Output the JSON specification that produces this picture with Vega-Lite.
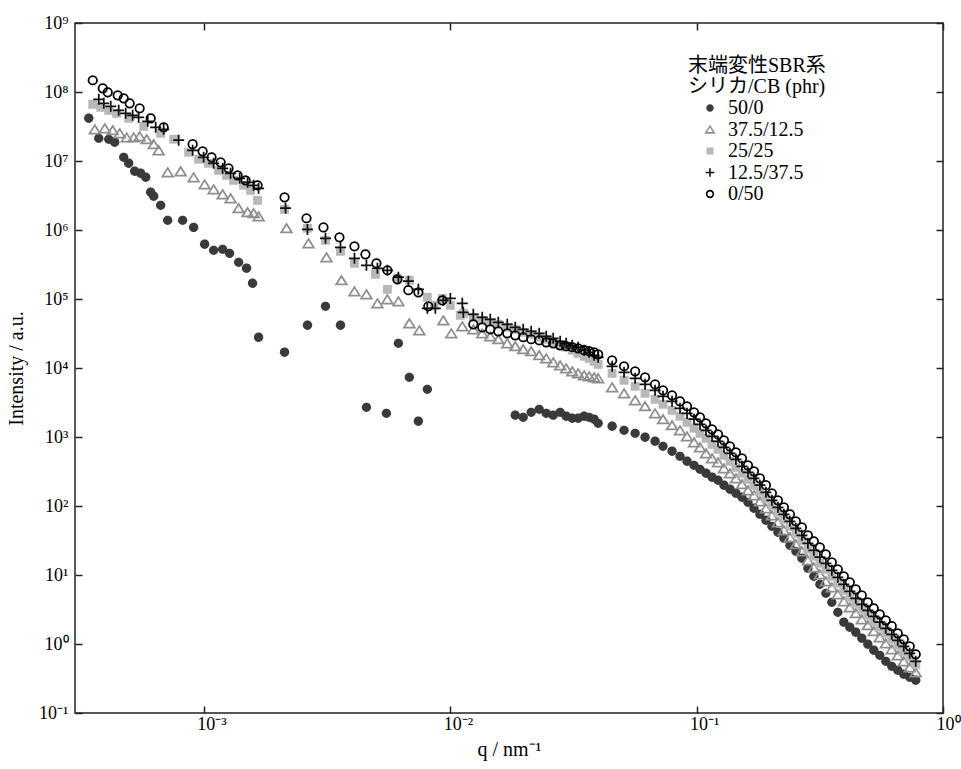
{
  "$schema": "https://vega.github.io/schema/vega-lite/v6.json",
  "width": 868,
  "height": 690,
  "autosize": {"type": "none"},
  "padding": {"left": 75, "top": 23, "right": 18, "bottom": 56},
  "background": "white",
  "config": {
    "view": {"stroke": "#222", "strokeWidth": 1.5},
    "font": "Liberation Serif",
    "axis": {
      "domain": false, "grid": false, "ticks": true,
      "tickColor": "#222", "tickWidth": 1.5, "tickSize": -7,
      "labelFont": "Liberation Serif", "labelFontSize": 18, "labelColor": "#000",
      "labelFlush": false, "labelOverlap": false,
      "titleFont": "Liberation Serif", "titleFontSize": 20, "titleFontWeight": "normal", "titleColor": "#000"
    },
    "legend": {
      "titleFont": "Liberation Serif, Noto Sans CJK JP", "titleFontSize": 20, "titleFontWeight": "normal",
      "titleLineHeight": 21, "titlePadding": 1, "titleColor": "#000", "titleAnchor": "start",
      "labelFont": "Liberation Serif", "labelFontSize": 20, "labelColor": "#000", "labelOffset": 8,
      "symbolOffset": 12, "symbolSize": 45, "symbolStrokeWidth": 1.6, "rowPadding": 1.5, "padding": 0
    }
  },
  "data": {"values": [
    {"series":"50/0","q":3.412e-4,"I":4.16e7},{"series":"50/0","q":3.746e-4,"I":2.13e7},{"series":"50/0","q":4.112e-4,"I":2.06e7},{"series":"50/0","q":4.348e-4,"I":1.87e7},{"series":"50/0","q":4.729e-4,"I":1.13e7},{"series":"50/0","q":4.955e-4,"I":9.27e6},{"series":"50/0","q":5.240e-4,"I":7.10e6},{"series":"50/0","q":5.540e-4,"I":6.64e6},{"series":"50/0","q":5.809e-4,"I":5.81e6},{"series":"50/0","q":6.085e-4,"I":3.52e6},{"series":"50/0","q":6.258e-4,"I":3.08e6},{"series":"50/0","q":6.680e-4,"I":2.28e6},{"series":"50/0","q":7.134e-4,"I":1.38e6},{"series":"50/0","q":8.204e-4,"I":1.38e6},{"series":"50/0","q":9.091e-4,"I":1.09e6},{"series":"50/0","q":1.0074e-3,"I":6.21e5},{"series":"50/0","q":1.096e-3,"I":5.08e5},{"series":"50/0","q":1.192e-3,"I":5.25e5},{"series":"50/0","q":1.272e-3,"I":4.59e5},{"series":"50/0","q":1.384e-3,"I":3.40e5},{"series":"50/0","q":1.491e-3,"I":2.79e5},{"series":"50/0","q":1.577e-3,"I":1.69e5},{"series":"50/0","q":1.668e-3,"I":2.79e4},{"series":"50/0","q":2.126e-3,"I":1.69e4},{"series":"50/0","q":2.634e-3,"I":4.16e4},{"series":"50/0","q":3.117e-3,"I":7.83e4},{"series":"50/0","q":3.586e-3,"I":4.16e4},{"series":"50/0","q":4.570e-3,"I":2.69e3},{"series":"50/0","q":5.508e-3,"I":2.20e3},{"series":"50/0","q":6.160e-3,"I":2.28e4},{"series":"50/0","q":6.824e-3,"I":7.33e3},{"series":"50/0","q":7.424e-3,"I":1.69e3},{"series":"50/0","q":8.074e-3,"I":4.91e3},
    {"series":"50/0","q":0.01836,"I":2070},{"series":"50/0","q":0.01978,"I":1930},{"series":"50/0","q":0.02131,"I":2280},{"series":"50/0","q":0.02297,"I":2520},{"series":"50/0","q":0.02453,"I":2200},{"series":"50/0","q":0.02618,"I":2070},{"series":"50/0","q":0.02794,"I":2280},{"series":"50/0","q":0.02955,"I":2000},{"series":"50/0","q":0.03126,"I":1870},{"series":"50/0","q":0.03305,"I":1870},{"series":"50/0","q":0.03496,"I":2000},{"series":"50/0","q":0.03663,"I":1930},{"series":"50/0","q":0.03838,"I":1810},{"series":"50/0","q":0.03985,"I":1580},
    {"series":"50/0","q":0.04541,"I":1430},{"series":"50/0","q":0.05076,"I":1250},{"series":"50/0","q":0.05630,"I":1130},{"series":"50/0","q":0.06177,"I":991},{"series":"50/0","q":0.06783,"I":867},{"series":"50/0","q":0.07306,"I":733},{"series":"50/0","q":0.07949,"I":621},{"series":"50/0","q":0.08561,"I":525},{"series":"50/0","q":0.09143,"I":445},{"series":"50/0","q":0.09760,"I":389},{"series":"50/0","q":0.1032,"I":340},{"series":"50/0","q":0.1092,"I":298},{"series":"50/0","q":0.1155,"I":261},{"series":"50/0","q":0.1221,"I":236},{"series":"50/0","q":0.1291,"I":200},{"series":"50/0","q":0.1366,"I":175},{"series":"50/0","q":0.1444,"I":153},{"series":"50/0","q":0.1528,"I":134},{"series":"50/0","q":0.1616,"I":113},{"series":"50/0","q":0.1709,"I":92.7},{"series":"50/0","q":0.1807,"I":75.9},{"series":"50/0","q":0.1911,"I":62.1},{"series":"50/0","q":0.2021,"I":50.8},{"series":"50/0","q":0.2138,"I":41.6},{"series":"50/0","q":0.2261,"I":34.0},{"series":"50/0","q":0.2391,"I":26.9},{"series":"50/0","q":0.2529,"I":22.0},{"series":"50/0","q":0.2675,"I":17.5},{"series":"50/0","q":0.2829,"I":12.5},{"series":"50/0","q":0.2991,"I":9.57},{"series":"50/0","q":0.3164,"I":7.33},{"series":"50/0","q":0.3346,"I":5.43},{"series":"50/0","q":0.3538,"I":4.02},{"series":"50/0","q":0.3742,"I":2.88},{"series":"50/0","q":0.3958,"I":2.07},{"series":"50/0","q":0.4186,"I":1.75},{"series":"50/0","q":0.4427,"I":1.48},{"series":"50/0","q":0.4682,"I":1.21},{"series":"50/0","q":0.4952,"I":0.991},{"series":"50/0","q":0.5237,"I":0.811},{"series":"50/0","q":0.5539,"I":0.686},{"series":"50/0","q":0.5858,"I":0.561},{"series":"50/0","q":0.6195,"I":0.475},{"series":"50/0","q":0.6552,"I":0.416},{"series":"50/0","q":0.6929,"I":0.364},{"series":"50/0","q":0.7328,"I":0.329},{"series":"50/0","q":0.7750,"I":0.298},

    {"series":"37.5/12.5","q":3.609e-4,"I":2.88e7},{"series":"37.5/12.5","q":3.962e-4,"I":2.98e7},{"series":"37.5/12.5","q":4.268e-4,"I":2.79e7},{"series":"37.5/12.5","q":4.556e-4,"I":2.52e7},{"series":"37.5/12.5","q":4.864e-4,"I":2.20e7},{"series":"37.5/12.5","q":5.191e-4,"I":2.20e7},{"series":"37.5/12.5","q":5.489e-4,"I":2.28e7},{"series":"37.5/12.5","q":5.863e-4,"I":2.07e7},{"series":"37.5/12.5","q":6.258e-4,"I":1.75e7},{"series":"37.5/12.5","q":6.557e-4,"I":1.43e7},{"series":"37.5/12.5","q":7.134e-4,"I":6.86e6},{"series":"37.5/12.5","q":8.054e-4,"I":7.10e6},{"series":"37.5/12.5","q":9.091e-4,"I":5.81e6},{"series":"37.5/12.5","q":1.0074e-3,"I":4.59e6},{"series":"37.5/12.5","q":1.096e-3,"I":3.89e6},{"series":"37.5/12.5","q":1.192e-3,"I":3.29e6},{"series":"37.5/12.5","q":1.284e-3,"I":2.88e6},{"series":"37.5/12.5","q":1.384e-3,"I":2.07e6},{"series":"37.5/12.5","q":1.505e-3,"I":1.81e6},{"series":"37.5/12.5","q":1.592e-3,"I":1.75e6},{"series":"37.5/12.5","q":1.668e-3,"I":1.58e6},
    {"series":"37.5/12.5","q":2.166e-3,"I":1.06e6},{"series":"37.5/12.5","q":2.659e-3,"I":6.41e5},{"series":"37.5/12.5","q":3.146e-3,"I":4.02e5},{"series":"37.5/12.5","q":3.619e-3,"I":1.87e5},{"series":"37.5/12.5","q":4.086e-3,"I":1.29e5},{"series":"37.5/12.5","q":4.570e-3,"I":1.17e5},{"series":"37.5/12.5","q":5.064e-3,"I":8.67e4},{"series":"37.5/12.5","q":5.559e-3,"I":9.91e4},{"series":"37.5/12.5","q":6.160e-3,"I":9.27e4},{"series":"37.5/12.5","q":6.824e-3,"I":4.45e4},{"series":"37.5/12.5","q":7.494e-3,"I":3.52e4},{"series":"37.5/12.5","q":9.376e-3,"I":4.91e4},{"series":"37.5/12.5","q":1.0104e-2,"I":3.18e4},{"series":"37.5/12.5","q":1.1194e-2,"I":4.02e4},
    {"series":"37.5/12.5","q":0.01241,"I":36400},{"series":"37.5/12.5","q":0.01349,"I":31800},{"series":"37.5/12.5","q":0.01454,"I":28800},{"series":"37.5/12.5","q":0.01567,"I":26100},{"series":"37.5/12.5","q":0.01704,"I":22800},{"series":"37.5/12.5","q":0.01836,"I":20700},{"series":"37.5/12.5","q":0.01978,"I":18700},{"series":"37.5/12.5","q":0.02131,"I":17500},{"series":"37.5/12.5","q":0.02297,"I":15300},{"series":"37.5/12.5","q":0.02453,"I":13800},{"series":"37.5/12.5","q":0.02618,"I":12100},{"series":"37.5/12.5","q":0.02794,"I":10900},{"series":"37.5/12.5","q":0.02955,"I":9910},{"series":"37.5/12.5","q":0.03126,"I":8960},{"series":"37.5/12.5","q":0.03305,"I":8380},{"series":"37.5/12.5","q":0.03496,"I":7830},{"series":"37.5/12.5","q":0.03663,"I":7590},{"series":"37.5/12.5","q":0.03838,"I":7330},{"series":"37.5/12.5","q":0.03985,"I":7100},
    {"series":"37.5/12.5","q":0.04541,"I":5250},{"series":"37.5/12.5","q":0.05076,"I":4300},{"series":"37.5/12.5","q":0.05630,"I":3400},{"series":"37.5/12.5","q":0.06177,"I":2790},{"series":"37.5/12.5","q":0.06783,"I":2200},{"series":"37.5/12.5","q":0.07306,"I":1810},{"series":"37.5/12.5","q":0.07949,"I":1480},{"series":"37.5/12.5","q":0.08561,"I":1250},{"series":"37.5/12.5","q":0.09143,"I":1020},{"series":"37.5/12.5","q":0.09760,"I":838},{"series":"37.5/12.5","q":0.1032,"I":710},{"series":"37.5/12.5","q":0.1092,"I":581},{"series":"37.5/12.5","q":0.1155,"I":491},{"series":"37.5/12.5","q":0.1221,"I":430},{"series":"37.5/12.5","q":0.1291,"I":352},{"series":"37.5/12.5","q":0.1366,"I":298},{"series":"37.5/12.5","q":0.1444,"I":252},{"series":"37.5/12.5","q":0.1528,"I":207},{"series":"37.5/12.5","q":0.1616,"I":169},{"series":"37.5/12.5","q":0.1709,"I":143},{"series":"37.5/12.5","q":0.1807,"I":117},{"series":"37.5/12.5","q":0.1911,"I":92.7},{"series":"37.5/12.5","q":0.2021,"I":73.3},{"series":"37.5/12.5","q":0.2138,"I":58.1},{"series":"37.5/12.5","q":0.2261,"I":44.5},{"series":"37.5/12.5","q":0.2391,"I":35.2},{"series":"37.5/12.5","q":0.2529,"I":27.9},{"series":"37.5/12.5","q":0.2675,"I":22.0},{"series":"37.5/12.5","q":0.2829,"I":16.3},{"series":"37.5/12.5","q":0.2991,"I":12.9},{"series":"37.5/12.5","q":0.3164,"I":10.2},{"series":"37.5/12.5","q":0.3346,"I":8.11},{"series":"37.5/12.5","q":0.3538,"I":6.64},{"series":"37.5/12.5","q":0.3742,"I":5.25},{"series":"37.5/12.5","q":0.3958,"I":4.16},{"series":"37.5/12.5","q":0.4186,"I":3.40},{"series":"37.5/12.5","q":0.4427,"I":2.79},{"series":"37.5/12.5","q":0.4682,"I":2.28},{"series":"37.5/12.5","q":0.4952,"I":1.87},{"series":"37.5/12.5","q":0.5237,"I":1.53},{"series":"37.5/12.5","q":0.5539,"I":1.25},{"series":"37.5/12.5","q":0.5858,"I":1.02},{"series":"37.5/12.5","q":0.6195,"I":0.838},{"series":"37.5/12.5","q":0.6552,"I":0.686},{"series":"37.5/12.5","q":0.6929,"I":0.561},{"series":"37.5/12.5","q":0.7328,"I":0.459},{"series":"37.5/12.5","q":0.7750,"I":0.389},

    {"series":"25/25","q":3.541e-4,"I":6.64e7},{"series":"25/25","q":3.817e-4,"I":6.00e7},{"series":"25/25","q":4.112e-4,"I":5.43e7},{"series":"25/25","q":4.430e-4,"I":4.91e7},{"series":"25/25","q":4.955e-4,"I":4.16e7},{"series":"25/25","q":5.702e-4,"I":3.18e7},{"series":"25/25","q":6.680e-4,"I":2.52e7},{"series":"25/25","q":7.544e-4,"I":2.07e7},{"series":"25/25","q":8.678e-4,"I":1.34e7},{"series":"25/25","q":9.526e-4,"I":1.06e7},{"series":"25/25","q":1.045e-3,"I":9.27e6},{"series":"25/25","q":1.148e-3,"I":7.33e6},{"series":"25/25","q":1.237e-3,"I":6.21e6},{"series":"25/25","q":1.320e-3,"I":5.25e6},{"series":"25/25","q":1.450e-3,"I":4.45e6},{"series":"25/25","q":1.548e-3,"I":3.76e6},{"series":"25/25","q":1.652e-3,"I":2.69e6},
    {"series":"25/25","q":2.126e-3,"I":2.00e6},{"series":"25/25","q":2.634e-3,"I":1.06e6},{"series":"25/25","q":3.117e-3,"I":7.10e5},{"series":"25/25","q":3.586e-3,"I":4.91e5},{"series":"25/25","q":4.086e-3,"I":3.29e5},{"series":"25/25","q":4.971e-3,"I":2.28e5},{"series":"25/25","q":5.559e-3,"I":1.38e5},{"series":"25/25","q":6.103e-3,"I":2.00e5},{"series":"25/25","q":6.824e-3,"I":1.87e5},{"series":"25/25","q":8.074e-3,"I":1.06e5},{"series":"25/25","q":8.619e-3,"I":8.11e4},{"series":"25/25","q":9.290e-3,"I":1.02e5},{"series":"25/25","q":1.0009e-2,"I":8.11e4},{"series":"25/25","q":1.0988e-2,"I":5.81e4},
    {"series":"25/25","q":0.01130,"I":62100},{"series":"25/25","q":0.01241,"I":54300},{"series":"25/25","q":0.01349,"I":49100},{"series":"25/25","q":0.01454,"I":45900},{"series":"25/25","q":0.01567,"I":43000},{"series":"25/25","q":0.01704,"I":38900},{"series":"25/25","q":0.01836,"I":36400},{"series":"25/25","q":0.01978,"I":32900},{"series":"25/25","q":0.02131,"I":30800},{"series":"25/25","q":0.02297,"I":27900},{"series":"25/25","q":0.02453,"I":26100},{"series":"25/25","q":0.02618,"I":23600},{"series":"25/25","q":0.02794,"I":21300},{"series":"25/25","q":0.02955,"I":20000},{"series":"25/25","q":0.03126,"I":18100},{"series":"25/25","q":0.03305,"I":16300},{"series":"25/25","q":0.03496,"I":14800},{"series":"25/25","q":0.03663,"I":13800},{"series":"25/25","q":0.03838,"I":12500},{"series":"25/25","q":0.03985,"I":11300},
    {"series":"25/25","q":0.04541,"I":8380},{"series":"25/25","q":0.05076,"I":6640},{"series":"25/25","q":0.05630,"I":5430},{"series":"25/25","q":0.06177,"I":4300},{"series":"25/25","q":0.06783,"I":3520},{"series":"25/25","q":0.07306,"I":2980},{"series":"25/25","q":0.07949,"I":2440},{"series":"25/25","q":0.08561,"I":2000},{"series":"25/25","q":0.09143,"I":1630},{"series":"25/25","q":0.09760,"I":1340},{"series":"25/25","q":0.1032,"I":1130},{"series":"25/25","q":0.1092,"I":957},{"series":"25/25","q":0.1155,"I":783},{"series":"25/25","q":0.1221,"I":664},{"series":"25/25","q":0.1291,"I":543},{"series":"25/25","q":0.1366,"I":445},{"series":"25/25","q":0.1444,"I":364},{"series":"25/25","q":0.1528,"I":298},{"series":"25/25","q":0.1616,"I":244},{"series":"25/25","q":0.1709,"I":200},{"series":"25/25","q":0.1807,"I":163},{"series":"25/25","q":0.1911,"I":129},{"series":"25/25","q":0.2021,"I":102},{"series":"25/25","q":0.2138,"I":81.1},{"series":"25/25","q":0.2261,"I":64.1},{"series":"25/25","q":0.2391,"I":50.8},{"series":"25/25","q":0.2529,"I":40.2},{"series":"25/25","q":0.2675,"I":31.8},{"series":"25/25","q":0.2829,"I":23.6},{"series":"25/25","q":0.2991,"I":18.7},{"series":"25/25","q":0.3164,"I":14.8},{"series":"25/25","q":0.3346,"I":12.1},{"series":"25/25","q":0.3538,"I":9.57},{"series":"25/25","q":0.3742,"I":7.59},{"series":"25/25","q":0.3958,"I":6.00},{"series":"25/25","q":0.4186,"I":4.75},{"series":"25/25","q":0.4427,"I":3.89},{"series":"25/25","q":0.4682,"I":3.18},{"series":"25/25","q":0.4952,"I":2.61},{"series":"25/25","q":0.5237,"I":2.13},{"series":"25/25","q":0.5539,"I":1.75},{"series":"25/25","q":0.5858,"I":1.43},{"series":"25/25","q":0.6195,"I":1.17},{"series":"25/25","q":0.6552,"I":0.957},{"series":"25/25","q":0.6929,"I":0.783},{"series":"25/25","q":0.7328,"I":0.641},{"series":"25/25","q":0.7750,"I":0.508},

    {"series":"12.5/37.5","q":3.746e-4,"I":7.83e7},{"series":"12.5/37.5","q":3.925e-4,"I":6.85e7},{"series":"12.5/37.5","q":4.190e-4,"I":6.21e7},{"series":"12.5/37.5","q":4.513e-4,"I":5.43e7},{"series":"12.5/37.5","q":4.819e-4,"I":4.91e7},{"series":"12.5/37.5","q":5.143e-4,"I":4.59e7},{"series":"12.5/37.5","q":5.438e-4,"I":4.30e7},{"series":"12.5/37.5","q":5.918e-4,"I":3.76e7},{"series":"12.5/37.5","q":6.376e-4,"I":3.08e7},{"series":"12.5/37.5","q":6.871e-4,"I":2.88e7},{"series":"12.5/37.5","q":7.904e-4,"I":2.00e7},{"series":"12.5/37.5","q":9.008e-4,"I":1.43e7},{"series":"12.5/37.5","q":9.98e-4,"I":1.13e7},{"series":"12.5/37.5","q":1.096e-3,"I":9.27e6},{"series":"12.5/37.5","q":1.192e-3,"I":7.83e6},{"series":"12.5/37.5","q":1.284e-3,"I":6.64e6},{"series":"12.5/37.5","q":1.397e-3,"I":5.61e6},{"series":"12.5/37.5","q":1.505e-3,"I":4.91e6},{"series":"12.5/37.5","q":1.592e-3,"I":4.45e6},{"series":"12.5/37.5","q":1.668e-3,"I":4.02e6},
    {"series":"12.5/37.5","q":2.146e-3,"I":2.07e6},{"series":"12.5/37.5","q":2.634e-3,"I":1.02e6},{"series":"12.5/37.5","q":3.117e-3,"I":7.59e5},{"series":"12.5/37.5","q":3.586e-3,"I":5.61e5},{"series":"12.5/37.5","q":4.086e-3,"I":3.89e5},{"series":"12.5/37.5","q":4.570e-3,"I":3.08e5},{"series":"12.5/37.5","q":5.064e-3,"I":2.79e5},{"series":"12.5/37.5","q":5.559e-3,"I":2.61e5},{"series":"12.5/37.5","q":6.160e-3,"I":2.07e5},{"series":"12.5/37.5","q":6.762e-3,"I":1.81e5},{"series":"12.5/37.5","q":7.424e-3,"I":1.38e5},{"series":"12.5/37.5","q":8.074e-3,"I":7.33e4},{"series":"12.5/37.5","q":8.700e-3,"I":7.33e4},{"series":"12.5/37.5","q":9.376e-3,"I":9.57e4},{"series":"12.5/37.5","q":1.0009e-2,"I":1.02e5},{"series":"12.5/37.5","q":1.1194e-2,"I":8.67e4},
    {"series":"12.5/37.5","q":0.01130,"I":64100},{"series":"12.5/37.5","q":0.01241,"I":60000},{"series":"12.5/37.5","q":0.01349,"I":54300},{"series":"12.5/37.5","q":0.01454,"I":50800},{"series":"12.5/37.5","q":0.01567,"I":45900},{"series":"12.5/37.5","q":0.01704,"I":43000},{"series":"12.5/37.5","q":0.01836,"I":38900},{"series":"12.5/37.5","q":0.01978,"I":36400},{"series":"12.5/37.5","q":0.02131,"I":34000},{"series":"12.5/37.5","q":0.02297,"I":31800},{"series":"12.5/37.5","q":0.02453,"I":28800},{"series":"12.5/37.5","q":0.02618,"I":26900},{"series":"12.5/37.5","q":0.02794,"I":24400},{"series":"12.5/37.5","q":0.02955,"I":22800},{"series":"12.5/37.5","q":0.03126,"I":21300},{"series":"12.5/37.5","q":0.03305,"I":20000},{"series":"12.5/37.5","q":0.03496,"I":18100},{"series":"12.5/37.5","q":0.03663,"I":16900},{"series":"12.5/37.5","q":0.03838,"I":15300},{"series":"12.5/37.5","q":0.03985,"I":14300},
    {"series":"12.5/37.5","q":0.04541,"I":10600},{"series":"12.5/37.5","q":0.05076,"I":8670},{"series":"12.5/37.5","q":0.05630,"I":7100},{"series":"12.5/37.5","q":0.06177,"I":5800},{"series":"12.5/37.5","q":0.06783,"I":4750},{"series":"12.5/37.5","q":0.07306,"I":3890},{"series":"12.5/37.5","q":0.07949,"I":3290},{"series":"12.5/37.5","q":0.08561,"I":2610},{"series":"12.5/37.5","q":0.09143,"I":2200},{"series":"12.5/37.5","q":0.09760,"I":1810},{"series":"12.5/37.5","q":0.1032,"I":1530},{"series":"12.5/37.5","q":0.1092,"I":1250},{"series":"12.5/37.5","q":0.1155,"I":1020},{"series":"12.5/37.5","q":0.1221,"I":867},{"series":"12.5/37.5","q":0.1291,"I":710},{"series":"12.5/37.5","q":0.1366,"I":581},{"series":"12.5/37.5","q":0.1444,"I":475},{"series":"12.5/37.5","q":0.1528,"I":376},{"series":"12.5/37.5","q":0.1616,"I":308},{"series":"12.5/37.5","q":0.1709,"I":252},{"series":"12.5/37.5","q":0.1807,"I":200},{"series":"12.5/37.5","q":0.1911,"I":158},{"series":"12.5/37.5","q":0.2021,"I":121},{"series":"12.5/37.5","q":0.2138,"I":95.7},{"series":"12.5/37.5","q":0.2261,"I":75.9},{"series":"12.5/37.5","q":0.2391,"I":60.0},{"series":"12.5/37.5","q":0.2529,"I":47.5},{"series":"12.5/37.5","q":0.2675,"I":37.6},{"series":"12.5/37.5","q":0.2829,"I":28.8},{"series":"12.5/37.5","q":0.2991,"I":22.8},{"series":"12.5/37.5","q":0.3164,"I":18.1},{"series":"12.5/37.5","q":0.3346,"I":14.8},{"series":"12.5/37.5","q":0.3538,"I":11.7},{"series":"12.5/37.5","q":0.3742,"I":9.27},{"series":"12.5/37.5","q":0.3958,"I":7.33},{"series":"12.5/37.5","q":0.4186,"I":5.81},{"series":"12.5/37.5","q":0.4427,"I":4.59},{"series":"12.5/37.5","q":0.4682,"I":3.76},{"series":"12.5/37.5","q":0.4952,"I":3.08},{"series":"12.5/37.5","q":0.5237,"I":2.52},{"series":"12.5/37.5","q":0.5539,"I":2.07},{"series":"12.5/37.5","q":0.5858,"I":1.69},{"series":"12.5/37.5","q":0.6195,"I":1.38},{"series":"12.5/37.5","q":0.6552,"I":1.13},{"series":"12.5/37.5","q":0.6929,"I":0.927},{"series":"12.5/37.5","q":0.7328,"I":0.733},{"series":"12.5/37.5","q":0.7750,"I":0.561},

    {"series":"0/50","q":3.541e-4,"I":1.48e8},{"series":"0/50","q":3.889e-4,"I":1.13e8},{"series":"0/50","q":4.074e-4,"I":9.91e7},{"series":"0/50","q":4.472e-4,"I":8.96e7},{"series":"0/50","q":4.729e-4,"I":8.11e7},{"series":"0/50","q":5.001e-4,"I":6.85e7},{"series":"0/50","q":5.489e-4,"I":5.81e7},{"series":"0/50","q":6.085e-4,"I":4.16e7},{"series":"0/50","q":6.871e-4,"I":3.08e7},{"series":"0/50","q":9.008e-4,"I":1.75e7},{"series":"0/50","q":9.888e-4,"I":1.38e7},{"series":"0/50","q":1.075e-3,"I":1.13e7},{"series":"0/50","q":1.170e-3,"I":9.57e6},{"series":"0/50","q":1.260e-3,"I":7.83e6},{"series":"0/50","q":1.371e-3,"I":6.21e6},{"series":"0/50","q":1.477e-3,"I":5.25e6},{"series":"0/50","q":1.652e-3,"I":4.45e6},
    {"series":"0/50","q":2.126e-3,"I":2.98e6},{"series":"0/50","q":2.610e-3,"I":1.48e6},{"series":"0/50","q":3.059e-3,"I":1.09e6},{"series":"0/50","q":3.552e-3,"I":7.83e5},{"series":"0/50","q":4.086e-3,"I":5.81e5},{"series":"0/50","q":4.528e-3,"I":4.45e5},{"series":"0/50","q":5.017e-3,"I":3.29e5},{"series":"0/50","q":5.559e-3,"I":2.61e5},{"series":"0/50","q":6.103e-3,"I":1.93e5},{"series":"0/50","q":6.762e-3,"I":1.34e5},{"series":"0/50","q":7.424e-3,"I":1.25e5},{"series":"0/50","q":8.149e-3,"I":7.83e4},{"series":"0/50","q":9.290e-3,"I":9.57e4},
    {"series":"0/50","q":0.01241,"I":43000},{"series":"0/50","q":0.01349,"I":38900},{"series":"0/50","q":0.01454,"I":36400},{"series":"0/50","q":0.01567,"I":34000},{"series":"0/50","q":0.01704,"I":31800},{"series":"0/50","q":0.01836,"I":29800},{"series":"0/50","q":0.01978,"I":27900},{"series":"0/50","q":0.02131,"I":26100},{"series":"0/50","q":0.02297,"I":25200},{"series":"0/50","q":0.02453,"I":23600},{"series":"0/50","q":0.02618,"I":22800},{"series":"0/50","q":0.02794,"I":21300},{"series":"0/50","q":0.02955,"I":20700},{"series":"0/50","q":0.03126,"I":20000},{"series":"0/50","q":0.03305,"I":19300},{"series":"0/50","q":0.03496,"I":18100},{"series":"0/50","q":0.03663,"I":17500},{"series":"0/50","q":0.03838,"I":16900},{"series":"0/50","q":0.03985,"I":15800},
    {"series":"0/50","q":0.04541,"I":12900},{"series":"0/50","q":0.05076,"I":10600},{"series":"0/50","q":0.05630,"I":8960},{"series":"0/50","q":0.06177,"I":7330},{"series":"0/50","q":0.06783,"I":5800},{"series":"0/50","q":0.07306,"I":4750},{"series":"0/50","q":0.07949,"I":4020},{"series":"0/50","q":0.08561,"I":3290},{"series":"0/50","q":0.09143,"I":2790},{"series":"0/50","q":0.09760,"I":2280},{"series":"0/50","q":0.1032,"I":1930},{"series":"0/50","q":0.1092,"I":1580},{"series":"0/50","q":0.1155,"I":1290},{"series":"0/50","q":0.1221,"I":1090},{"series":"0/50","q":0.1291,"I":896},{"series":"0/50","q":0.1366,"I":733},{"series":"0/50","q":0.1444,"I":600},{"series":"0/50","q":0.1528,"I":491},{"series":"0/50","q":0.1616,"I":389},{"series":"0/50","q":0.1709,"I":318},{"series":"0/50","q":0.1807,"I":252},{"series":"0/50","q":0.1911,"I":200},{"series":"0/50","q":0.2021,"I":153},{"series":"0/50","q":0.2138,"I":121},{"series":"0/50","q":0.2261,"I":95.7},{"series":"0/50","q":0.2391,"I":75.9},{"series":"0/50","q":0.2529,"I":60.0},{"series":"0/50","q":0.2675,"I":49.1},{"series":"0/50","q":0.2829,"I":37.6},{"series":"0/50","q":0.2991,"I":30.8},{"series":"0/50","q":0.3164,"I":25.2},{"series":"0/50","q":0.3346,"I":19.9},{"series":"0/50","q":0.3538,"I":15.3},{"series":"0/50","q":0.3742,"I":12.1},{"series":"0/50","q":0.3958,"I":9.57},{"series":"0/50","q":0.4186,"I":7.83},{"series":"0/50","q":0.4427,"I":6.21},{"series":"0/50","q":0.4682,"I":5.08},{"series":"0/50","q":0.4952,"I":4.02},{"series":"0/50","q":0.5237,"I":3.29},{"series":"0/50","q":0.5539,"I":2.69},{"series":"0/50","q":0.5858,"I":2.20},{"series":"0/50","q":0.6195,"I":1.81},{"series":"0/50","q":0.6552,"I":1.43},{"series":"0/50","q":0.6929,"I":1.17},{"series":"0/50","q":0.7328,"I":0.927},{"series":"0/50","q":0.7750,"I":0.710}
  ]},
  "layer": [
    {
      "mark": {"type": "point", "size": 72, "strokeWidth": 1.75, "opacity": 1},
      "encoding": {
        "x": {
          "field": "q", "type": "quantitative",
          "scale": {"type": "log", "domain": [0.0003, 1], "nice": false},
          "axis": {
            "orient": "bottom", "values": [0.001, 0.01, 0.1, 1],
            "labelExpr": "'10' + (datum.value < 1 ? '⁻' : '') + ['⁰','¹','²','³','⁴','⁵','⁶','⁷','⁸','⁹'][abs(round(log(datum.value)/LN10))]",
            "labelAlign": "left", "labelOffset": -7, "labelBaseline": "top", "labelPadding": 9,
            "title": "q / nm⁻¹", "titlePadding": 6
          }
        },
        "y": {
          "field": "I", "type": "quantitative",
          "scale": {"type": "log", "domain": [0.1, 1000000000], "nice": false},
          "axis": {
            "orient": "left",
            "values": [0.1, 1, 10, 100, 1000, 10000, 100000, 1000000, 10000000, 100000000, 1000000000],
            "labelExpr": "'10' + (datum.value < 1 ? '⁻' : '') + ['⁰','¹','²','³','⁴','⁵','⁶','⁷','⁸','⁹'][abs(round(log(datum.value)/LN10))]",
            "labelPadding": 14, "labelBaseline": "middle",
            "title": "Intensity / a.u.", "titlePadding": 12
          }
        },
        "shape": {
          "field": "series", "type": "nominal",
          "scale": {
            "domain": ["50/0", "37.5/12.5", "25/25", "12.5/37.5", "0/50"],
            "range": [
              "M1.1,0A1.1,1.1,0,1,1,-1.1,0A1.1,1.1,0,1,1,1.1,0Z",
              "M0,-1L1.25,1L-1.25,1Z",
              "M-1.05,-1.05L1.05,-1.05L1.05,1.05L-1.05,1.05Z",
              "M-1.3,0L1.3,0M0,-1.3L0,1.3",
              "M1,0A1,1,0,1,1,-1,0A1,1,0,1,1,1,0Z"
            ]
          },
          "legend": {"title": ["末端変性SBR系", "シリカ/CB (phr)"], "orient": "none", "legendX": 613, "legendY": 33}
        },
        "fill": {
          "field": "series", "type": "nominal",
          "scale": {
            "domain": ["50/0", "37.5/12.5", "25/25", "12.5/37.5", "0/50"],
            "range": ["#3a3a3a", "transparent", "#b8b8b8", "transparent", "transparent"]
          },
          "legend": {"title": ["末端変性SBR系", "シリカ/CB (phr)"], "orient": "none", "legendX": 613, "legendY": 33}
        },
        "stroke": {
          "field": "series", "type": "nominal",
          "scale": {
            "domain": ["50/0", "37.5/12.5", "25/25", "12.5/37.5", "0/50"],
            "range": ["transparent", "#8e8e8e", "transparent", "#111111", "#000000"]
          },
          "legend": {"title": ["末端変性SBR系", "シリカ/CB (phr)"], "orient": "none", "legendX": 613, "legendY": 33}
        }
      }
    },
    {
      "data": {"values": [{"q": 0.001, "I": 1}]},
      "mark": {"type": "point", "opacity": 0},
      "encoding": {
        "x": {"field": "q", "type": "quantitative", "scale": {"type": "log", "domain": [0.0003, 1], "nice": false},
              "axis": {"orient": "top", "values": [0.001, 0.01, 0.1, 1], "labels": false, "title": null}},
        "y": {"field": "I", "type": "quantitative", "scale": {"type": "log", "domain": [0.1, 1000000000], "nice": false},
              "axis": {"orient": "right", "values": [0.1, 1, 10, 100, 1000, 10000, 100000, 1000000, 10000000, 100000000, 1000000000], "labels": false, "title": null}}
      }
    }
  ],
  "resolve": {"axis": {"x": "independent", "y": "independent"}}
}
